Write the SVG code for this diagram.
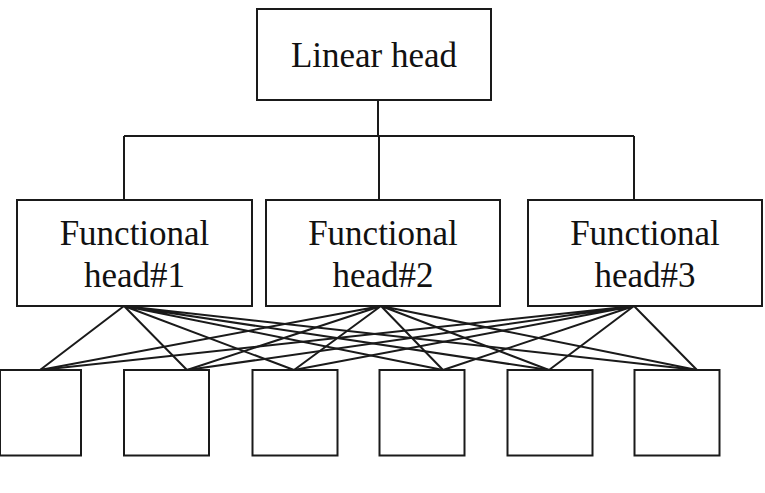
<svg xmlns="http://www.w3.org/2000/svg" width="765" height="493" viewBox="0 0 765 493">
<style>
.box{fill:#fff;stroke:#1a1a1a;stroke-width:2}
.ln{stroke:#1a1a1a;stroke-width:2;fill:none}
text{font-family:"Liberation Serif","Times New Roman",serif;font-size:35px;fill:#111;text-anchor:middle}
</style>
<rect width="765" height="493" fill="#fff"/>
<g id="connectors">
<path class="ln" d="M378 100V136M124 136H634M124 136V200M379 136V200M634 136V200"/>
<g id="f1-links">
<path class="ln" d="M124 306L40 370M124 306L187 370M124 306L294 370M124 306L443 370M124 306L549 370M124 306L697 370"/>
</g>
<g id="f2-links">
<path class="ln" d="M381 306L40 370M381 306L187 370M381 306L294 370M381 306L443 370M381 306L549 370M381 306L697 370"/>
</g>
<g id="f3-links">
<path class="ln" d="M634 306L40 370M634 306L187 370M634 306L294 370M634 306L443 370M634 306L549 370M634 306L697 370"/>
</g>
</g>
<g id="linear-head">
<rect class="box" x="257" y="9" width="234" height="91"/>
<text x="374" y="67">Linear head</text>
</g>
<g id="functional-head-1">
<rect class="box" x="17" y="200" width="235" height="106"/>
<text x="134.5" y="245">Functional</text>
<text x="134.5" y="287">head#1</text>
</g>
<g id="functional-head-2">
<rect class="box" x="266" y="200" width="234" height="106"/>
<text x="383" y="245">Functional</text>
<text x="383" y="287">head#2</text>
</g>
<g id="functional-head-3">
<rect class="box" x="528" y="200" width="234" height="106"/>
<text x="645" y="245">Functional</text>
<text x="645" y="287">head#3</text>
</g>
<g id="input-1"><rect class="box" x="0" y="370" width="81" height="85.5"/></g>
<g id="input-2"><rect class="box" x="124" y="370" width="85" height="85.5"/></g>
<g id="input-3"><rect class="box" x="252.5" y="370" width="85" height="85.5"/></g>
<g id="input-4"><rect class="box" x="379.5" y="370" width="85" height="85.5"/></g>
<g id="input-5"><rect class="box" x="507.5" y="370" width="85" height="85.5"/></g>
<g id="input-6"><rect class="box" x="634.5" y="370" width="85" height="85.5"/></g>
</svg>
